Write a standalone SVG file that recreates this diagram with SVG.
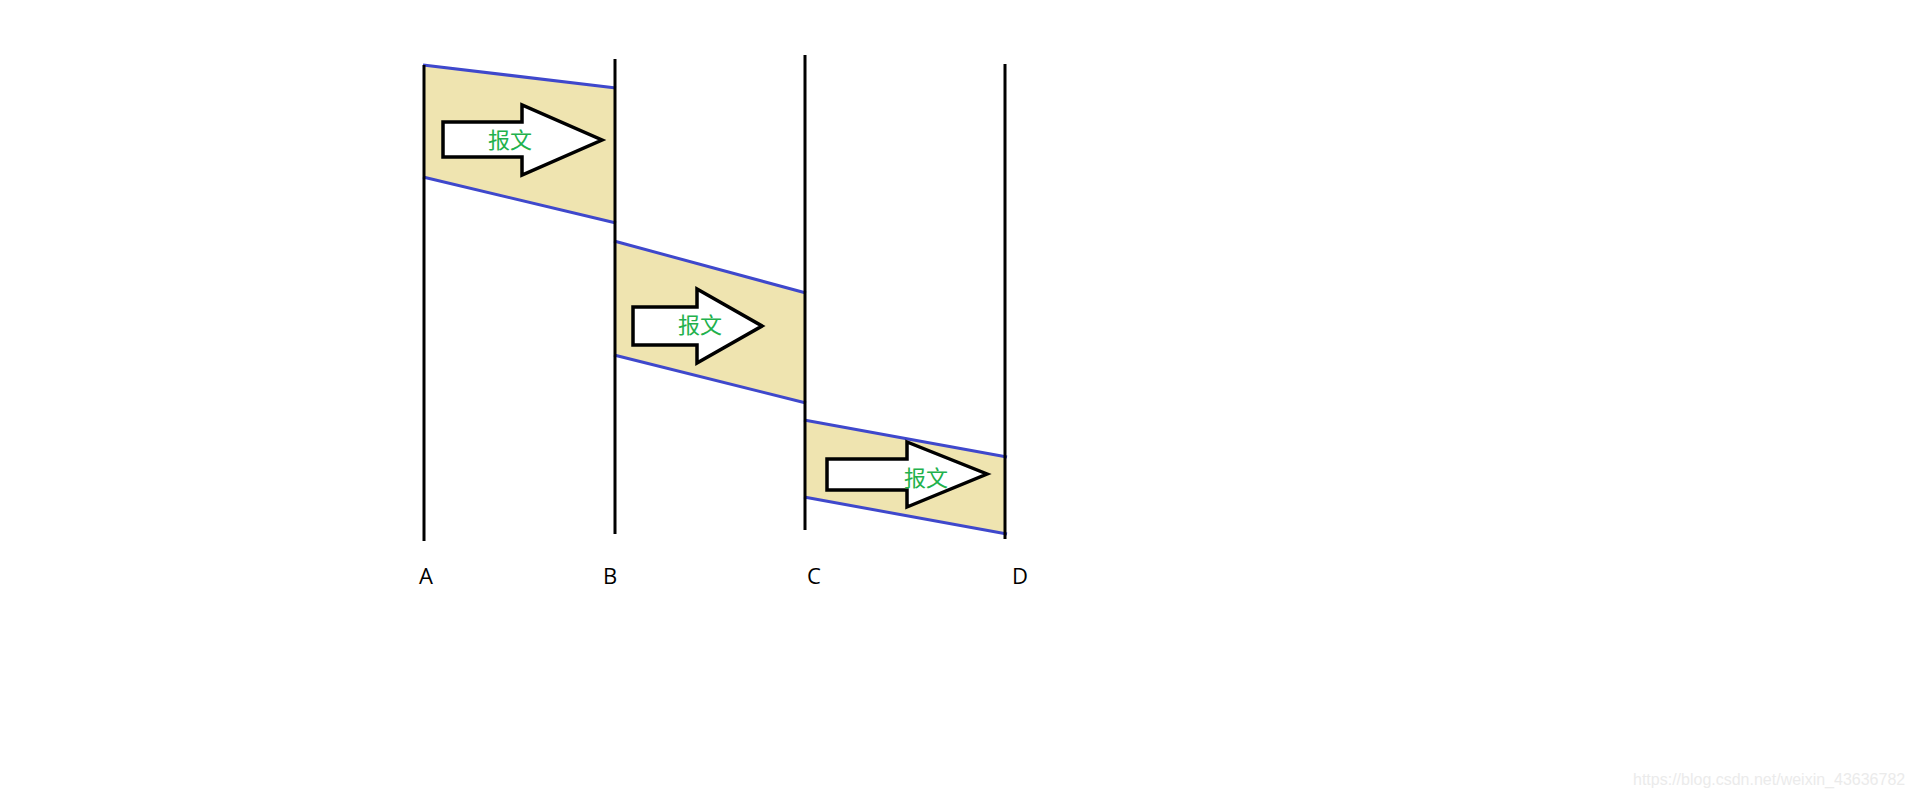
<svg xmlns="http://www.w3.org/2000/svg" width="1914" height="797" viewBox="0 0 1914 797">
<style>
.band{fill:#efe4b0;stroke:none}
.edge{stroke:#3f48cc;stroke-width:3;fill:none}
.life{stroke:#000;stroke-width:3;fill:none}
.arrow{fill:#fff;stroke:#000;stroke-width:3.5;stroke-linejoin:miter}
.msg{font-family:"Noto Sans CJK SC","Noto Sans",sans-serif;font-size:22px;fill:#22b14c;text-anchor:middle}
.lbl{font-family:"Open Sans","Noto Sans",sans-serif;font-size:22px;fill:#000;text-anchor:middle}
.wm{font-family:"Liberation Sans",Arial,sans-serif;font-size:16px;fill:#ebebeb}
</style>
<rect width="1914" height="797" fill="#fff"/>
<g id="band-AB">
<polygon class="band" points="424,65 615,88 615,223 424,177"/>
</g>
<g id="band-BC">
<polygon class="band" points="615,241 805,293 805,403 615,355"/>
</g>
<g id="band-CD">
<polygon class="band" points="805,420 1005,457 1005,533 805,497"/>
</g>
<g id="connectors">
<line class="edge" x1="423" y1="65" x2="616" y2="88"/>
<line class="edge" x1="423" y1="177" x2="616" y2="223"/>
<line class="edge" x1="614" y1="241" x2="806" y2="293"/>
<line class="edge" x1="614" y1="355" x2="806" y2="403"/>
<line class="edge" x1="804" y1="420" x2="1007" y2="457"/>
<line class="edge" x1="804" y1="497" x2="1007" y2="534"/>
</g>
<g id="lifeline-A">
<line class="life" x1="424" y1="65" x2="424" y2="541"/>
<text class="lbl" x="426" y="584">A</text>
</g>
<g id="lifeline-B">
<line class="life" x1="615" y1="59" x2="615" y2="534"/>
<text class="lbl" x="610" y="584">B</text>
</g>
<g id="lifeline-C">
<line class="life" x1="805" y1="55" x2="805" y2="530"/>
<text class="lbl" x="814" y="584">C</text>
</g>
<g id="lifeline-D">
<line class="life" x1="1005" y1="64" x2="1005" y2="539"/>
<text class="lbl" x="1020" y="584">D</text>
</g>
<g id="msg-1">
<polygon class="arrow" points="443,122 522,122 522,105 602,140 522,175 522,157 443,157"/>
<text class="msg" x="510" y="148">报文</text>
</g>
<g id="msg-2">
<polygon class="arrow" points="633,307 697,307 697,289 762,326 697,363 697,345 633,345"/>
<text class="msg" x="700" y="333">报文</text>
</g>
<g id="msg-3">
<polygon class="arrow" points="827,459 907,459 907,442 987,474 907,507 907,490 827,490"/>
<text class="msg" x="926" y="486">报文</text>
</g>
<text class="wm" x="1633" y="785">https://blog.csdn.net/weixin_43636782</text>
</svg>
